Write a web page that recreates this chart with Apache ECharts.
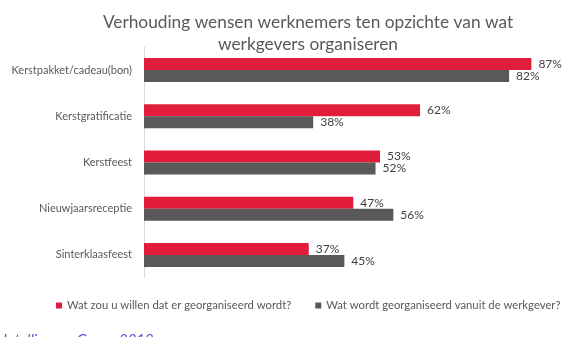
<!DOCTYPE html>
<html>
<head>
<meta charset="utf-8">
<script src="https://cdn.jsdelivr.net/npm/echarts@6/dist/echarts.min.js"></script>
<style>html,body{margin:0;padding:0;background:#fff}#c{width:574px;height:337px}</style>
</head>
<body>
<div id="c"></div>
<script>
const titleLines = ['Verhouding wensen werknemers ten opzichte van wat', 'werkgevers organiseren'];
const categories = ['Kerstpakket/cadeau(bon)', 'Kerstgratificatie', 'Kerstfeest', 'Nieuwjaarsreceptie', 'Sinterklaasfeest'];
const seriesNames = ['Wat zou u willen dat er georganiseerd wordt?', 'Wat wordt georganiseerd vanuit de werkgever?'];
const wensen = [87, 62, 53, 47, 37];
const werkgever = [82, 38, 52, 56, 45];
const sourceText = 'Intelligence Group 2019';

const chart = echarts.init(document.getElementById('c'), null, {renderer: 'canvas'});
const font = 'Lato, "Liberation Sans", sans-serif';
chart.setOption({
  animation: false,
  textStyle: {fontFamily: font},
  grid: {left: 144, top: 47, width: 423, height: 231, containLabel: false},
  xAxis: {type: 'value', min: 0, max: 95, show: false, splitLine: {show: false}},
  yAxis: {
    type: 'category', data: categories, inverse: true,
    axisLine: {lineStyle: {color: '#d9d9d9', width: 1}},
    axisTick: {show: false},
    axisLabel: {color: '#595959', fontSize: 11, margin: 12, fontFamily: font}
  },
  legend: {
    data: seriesNames, left: 51, top: 295, icon: 'rect', itemWidth: 6, itemHeight: 6, itemGap: 24,
    textStyle: {color: '#595959', fontSize: 11.3, fontFamily: font}
  },
  series: [
    {name: seriesNames[0], type: 'bar', data: wensen, barWidth: 12, barGap: '0%',
     itemStyle: {color: '#E21D3B'},
     label: {show: true, position: 'right', distance: 7, formatter: '{c}%', color: '#404040', fontSize: 12, fontFamily: font}},
    {name: seriesNames[1], type: 'bar', data: werkgever, barWidth: 12, barGap: '0%',
     itemStyle: {color: '#595959'},
     label: {show: true, position: 'right', distance: 7, formatter: '{c}%', color: '#404040', fontSize: 12, fontFamily: font}}
  ],
  graphic: [
    {type: 'text', x: 308, y: 11, style: {text: titleLines.join('\n'), textAlign: 'center', textVerticalAlign: 'top', fill: '#595959', font: '17.3px ' + font, lineHeight: 22}},
    {type: 'text', x: 3, y: 333, style: {text: sourceText, textAlign: 'left', textVerticalAlign: 'top', fill: '#5858d8', font: 'italic 15px ' + font}}
  ]
});
</script>
</body>
</html>
